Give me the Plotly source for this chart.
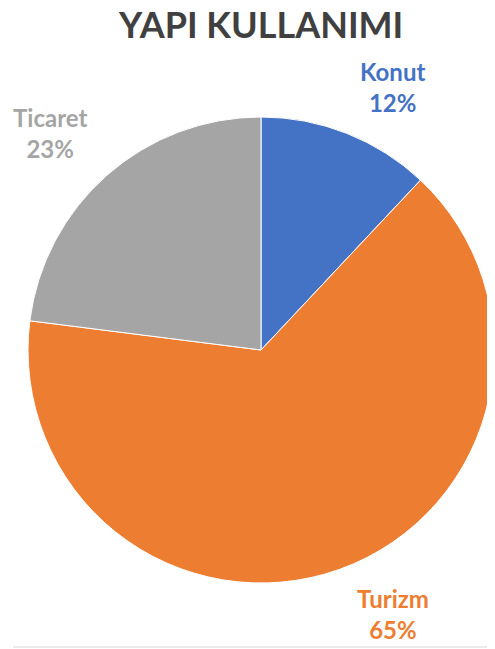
import plotly.graph_objects as go

labels = ["Konut", "Turizm", "Ticaret"]
values = [12, 65, 23]
colors = ["#4472C4", "#ED7D31", "#A5A5A5"]
title_text = "YAPI KULLANIMI"

# page body has an 8px margin; work in reference pixel coordinates and shift
OFF = 8
W, H = 495 - OFF, 649 - OFF
FONT = "Lato"

def px_x(x):
    return (x - OFF) / W

def px_y(y):
    return 1 - (y - OFF) / H

fig = go.Figure(go.Pie(
    labels=labels, values=values, sort=False, direction="clockwise", rotation=0,
    marker=dict(colors=colors, line=dict(color="white", width=1)),
    textinfo="none", hoverinfo="label+percent", showlegend=False,
    domain=dict(x=[px_x(28), min(1, px_x(494))], y=[px_y(583), px_y(117)]),
))

label_pos = [(392, 87), (393, 614), (50, 133)]
total = sum(values)
annotations = []
for lab, val, col, (px, py) in zip(labels, values, colors, label_pos):
    annotations.append(dict(
        text=f"<b>{lab}</b><br><b>{round(val / total * 100)}%</b>",
        x=px_x(px), y=px_y(py), xref="paper", yref="paper",
        xanchor="center", yanchor="middle", showarrow=False,
        font=dict(family=FONT, size=24, color=col), align="center",
    ))
annotations.append(dict(
    text=f"<b>{title_text}</b>", x=px_x(260), y=px_y(24), xref="paper", yref="paper",
    xanchor="center", yanchor="middle", showarrow=False,
    font=dict(family=FONT, size=36, color="#404040"),
))

fig.update_layout(
    width=W, height=H, margin=dict(l=0, r=0, t=0, b=0),
    paper_bgcolor="white", plot_bgcolor="white",
    annotations=annotations,
    shapes=[dict(type="line", xref="paper", yref="paper", x0=px_x(13), x1=1,
                 y0=px_y(647), y1=px_y(647), line=dict(color="#D9D9D9", width=1))],
)

fig.write_html("out.html")
